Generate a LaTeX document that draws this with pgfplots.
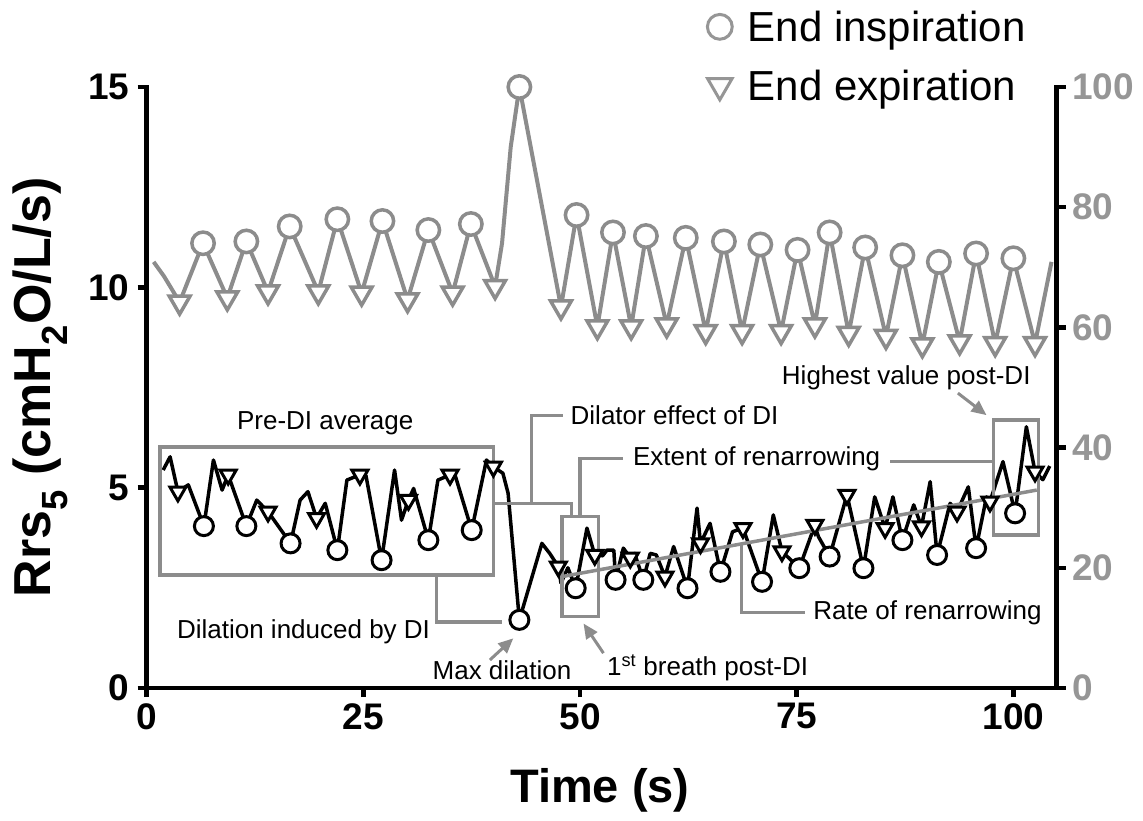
\documentclass[border=0pt]{standalone}
\usepackage{fontspec}
\setmainfont{Liberation Sans}
\usepackage{pgfplots}
\pgfplotsset{compat=1.18}
\usetikzlibrary{arrows.meta}
\definecolor{g1}{RGB}{140,140,140}
\definecolor{g2}{RGB}{150,150,150}
\begin{document}
\begin{tikzpicture}
\path[use as bounding box] (0,0) rectangle (1143pt,820pt);
\begin{axis}[at={(146.7pt,132pt)}, anchor=south west, scale only axis,
  width=910pt, height=601pt, xmin=0, xmax=105, ymin=0, ymax=15,
  axis x line*=bottom, axis y line*=left,
  xtick={0,25,50,75,100}, ytick={0,5,10,15},
  tick align=outside, major tick length=9pt,
  axis line style={line width=4.5pt, line cap=rect},
  tick style={line width=4.5pt, black},
  ticklabel style={font=\fontsize{37}{37}\selectfont\bfseries},
  yticklabel style={xshift=-5pt},
  xticklabel style={yshift=-3pt},
  /pgf/number format/assume math mode=true,
  xlabel={Time (s)},
  xlabel style={font=\fontsize{47}{50}\selectfont\bfseries, at={(axis description cs:0.498,-0.170)}, anchor=center},
  ylabel={Rrs\textsubscript{5} (cmH\textsubscript{2}O/L/s)},
  ylabel style={font=\fontsize{52}{56}\selectfont\bfseries, at={(axis description cs:-0.117,0.5)}, anchor=center},
  clip=false]
% black Rrs trace
\addplot[black, line width=3.5pt, line join=round, mark=none] coordinates {
(1.9,5.44)(2.7,5.77)(3.6,4.90)(4.8,5.07)(6.6,4.04)(7.7,5.69)(8.7,4.94)(9.4,5.32)(11.5,4.04)(12.7,4.69)(14.0,4.40)(16.6,3.61)(17.7,4.69)(18.6,4.90)(19.6,4.24)(20.6,4.61)(22.0,3.44)(23.1,5.19)(24.6,5.32)(25.3,5.30)(27.1,3.19)(28.6,5.44)(29.4,4.19)(30.2,4.69)(30.8,4.98)(32.5,3.69)(33.6,5.19)(35.0,5.32)(35.6,5.30)(37.5,3.94)(39.2,5.69)(40.0,5.52)(41.1,5.36)(41.7,4.86)(43.0,1.70)(45.6,3.61)(46.5,3.36)(47.5,3.03)(47.8,2.62)(48.6,3.00)(49.5,2.49)(50.8,3.99)(51.7,3.32)(52.6,3.30)(53.1,3.44)(53.9,3.44)(54.1,2.70)(55.0,3.49)(55.8,3.25)(56.3,3.36)(57.3,2.70)(58.1,3.36)(58.8,3.32)(59.8,2.78)(60.8,3.53)(62.4,2.49)(63.5,4.49)(63.9,3.61)(65.0,4.11)(66.2,2.90)(67.6,3.90)(68.8,3.99)(71.0,2.65)(72.3,4.32)(73.3,3.41)(75.3,2.99)(77.1,4.07)(77.5,3.78)(78.8,3.28)(80.8,4.82)(82.7,2.99)(84.0,4.77)(85.2,3.99)(86.1,4.77)(87.2,3.69)(88.5,4.57)(89.4,4.03)(90.4,5.15)(91.2,3.32)(92.7,4.61)(93.5,4.40)(94.8,5.02)(95.7,3.49)(96.9,4.77)(97.3,4.65)(98.8,5.65)(100.2,4.36)(101.5,6.52)(102.5,5.40)(103.4,5.20)(104.2,5.54)};
\addplot[only marks, mark=*, mark size=9.5pt, line width=3pt, mark options={draw=black, fill=white}] coordinates {
(6.6,4.04)(11.5,4.04)(16.6,3.61)(22.0,3.44)(27.1,3.19)(32.5,3.69)(37.5,3.94)(43.0,1.70)(49.5,2.49)(54.1,2.70)(57.3,2.70)(62.4,2.49)(66.2,2.90)(71.0,2.65)(75.3,2.99)(78.8,3.28)(82.7,2.99)(87.2,3.69)(91.2,3.32)(95.7,3.49)(100.2,4.36)};
\addplot[only marks, mark=triangle*, mark size=9.2pt, line width=3pt, mark options={draw=black, fill=white, rotate=180}] coordinates {
(3.6,4.90)(9.4,5.32)(14.0,4.40)(19.6,4.24)(24.6,5.32)(30.2,4.69)(35.0,5.32)(40.0,5.52)(47.5,3.03)(51.7,3.32)(55.8,3.25)(59.8,2.78)(63.9,3.61)(68.8,3.99)(73.3,3.41)(77.1,4.07)(80.8,4.82)(85.2,3.99)(89.4,4.03)(93.5,4.40)(97.3,4.65)(102.5,5.40)};
% trend line
\addplot[g1, line width=3.5pt, mark=none] coordinates {(47.9,2.78)(102.7,4.94)};
% annotations
\begin{scope}[g1, line width=3.5pt]
\draw (1.53,6.02) rectangle (40.0,2.82);
\draw (33.45,2.82) -- (33.45,1.65) -- (40.96,1.65);
\draw (40.0,4.61) -- (49.04,4.61) -- (49.04,4.275);
\draw (44.42,4.61) -- (44.42,6.80) -- (48.0,6.80);
\draw (47.9,4.275) rectangle (52.12,1.78);
\draw (50.0,4.275) -- (50.0,5.73) -- (55.0,5.73);
\draw (85.8,5.65) -- (97.68,5.65);
\draw (97.68,6.69) rectangle (102.87,3.82);
\draw (68.65,3.60) -- (68.65,1.88) -- (75.95,1.88);
\draw[-{Triangle[width=13pt,length=15pt]}, line width=3pt] (93.6,7.36) -- (96.9,6.81);
\draw[-{Triangle[width=13pt,length=15pt]}, line width=3pt] (39.6,0.70) -- (42.3,1.24);
\draw[-{Triangle[width=13pt,length=15pt]}, line width=3pt] (52.7,0.87) -- (50.4,1.61);
\end{scope}
\begin{scope}[every node/.style={font=\fontsize{26}{30}\selectfont, text=black, inner sep=0pt}]
\node at (20.6,6.61) {Pre-DI average};
\node at (18.1,1.40) {Dilation induced by DI};
\node[anchor=west] at (48.9,6.80) {Dilator effect of DI};
\node[anchor=west] at (56.1,5.73) {Extent of renarrowing};
\node at (87.64,7.74) {Highest value post-DI};
\node[anchor=west] at (76.9,1.88) {Rate of renarrowing};
\node at (41.0,0.45) {Max dilation};
\node[anchor=west] at (53.1,0.50) {1\textsuperscript{st} breath post-DI};
\end{scope}
\end{axis}
\begin{axis}[at={(146.7pt,132pt)}, anchor=south west, scale only axis,
  width=910pt, height=601pt, xmin=0, xmax=105, ymin=0, ymax=100,
  axis y line*=right, axis x line=none,
  ytick={0,20,40,60,80,100},
  tick align=outside, major tick length=9pt,
  axis line style={line width=4.5pt, line cap=rect},
  tick style={line width=4.5pt, black},
  yticklabel style={font=\fontsize{37}{37}\selectfont\bfseries, text=g2, xshift=3pt},
  /pgf/number format/assume math mode=true,
  legend style={at={(axis description cs:0.612,1.127)}, anchor=north west, draw=none, fill=none,
    font=\fontsize{42}{46}\selectfont, row sep=27pt, inner sep=0pt, column sep=0pt,
    nodes={inner sep=0pt}},
  legend cell align=left,
  legend image code/.code={\path[draw=none] (0pt,0pt) (44pt,0pt); \draw[#1] plot coordinates {(16pt,0pt)};},
  clip=false]
\addlegendimage{only marks, mark=*, mark size=11.5pt, line width=3pt, mark options={draw=g2, fill=white, line width=3pt, scale=1.08}}
\addlegendentry{End inspiration}
\addlegendimage{only marks, mark=triangle*, mark size=13pt, line width=3pt, mark options={draw=g2, fill=white, rotate=180, line width=3pt, scale=1.08}}
\addlegendentry{End expiration}
\addplot[g1, line width=4pt, line join=round, mark=none, forget plot] coordinates {
(0.8,70.9)(2.0,68.5)(3.8,64.2)(6.5,74.0)(9.3,64.9)(11.5,74.3)(14.0,65.9)(16.5,76.8)(19.8,65.9)(22.0,78.0)(24.8,65.7)(27.2,77.7)(30.1,64.6)(32.5,76.2)(35.3,65.7)(37.4,77.2)(40.2,66.8)(41.0,74.0)(42.0,90.0)(43.0,100.0)(47.8,63.4)(49.6,78.7)(52.0,60.1)(53.8,75.8)(55.9,60.1)(57.6,75.2)(60.0,60.4)(62.2,74.9)(64.5,59.3)(66.6,74.3)(68.7,59.3)(70.8,73.8)(73.2,59.3)(75.1,72.9)(77.1,60.4)(78.8,75.8)(81.0,59.0)(82.9,73.3)(85.3,58.5)(87.2,72.0)(89.5,57.1)(91.4,70.9)(93.8,57.6)(95.7,72.3)(97.9,57.3)(100.0,71.5)(102.5,57.3)(104.4,70.9)};
\addplot[only marks, mark=*, mark size=11.2pt, line width=3.5pt, mark options={draw=g1, fill=white}, forget plot] coordinates {
(6.5,74.0)(11.5,74.3)(16.5,76.8)(22.0,78.0)(27.2,77.7)(32.5,76.2)(37.4,77.2)(43.0,100.0)(49.6,78.7)(53.8,75.8)(57.6,75.2)(62.2,74.9)(66.6,74.3)(70.8,73.8)(75.1,72.9)(78.8,75.8)(82.9,73.3)(87.2,72.0)(91.4,70.9)(95.7,72.3)(100.0,71.5)};
\addplot[only marks, mark=triangle*, mark size=12pt, line width=3.5pt, mark options={draw=g1, fill=white, rotate=180}, forget plot] coordinates {
(3.8,64.2)(9.3,64.9)(14.0,65.9)(19.8,65.9)(24.8,65.7)(30.1,64.6)(35.3,65.7)(40.2,66.8)(47.8,63.4)(52.0,60.1)(55.9,60.1)(60.0,60.4)(64.5,59.3)(68.7,59.3)(73.2,59.3)(77.1,60.4)(81.0,59.0)(85.3,58.5)(89.5,57.1)(93.8,57.6)(97.9,57.3)(102.5,57.3)};
\end{axis}
\end{tikzpicture}
\end{document}
